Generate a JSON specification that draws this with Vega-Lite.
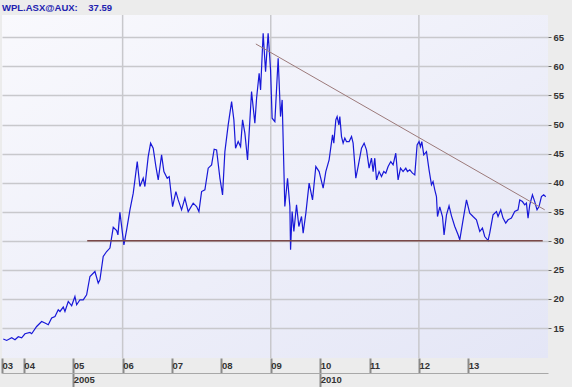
{
  "$schema": "https://vega.github.io/schema/vega-lite/v6.json",
  "width": 546,
  "height": 343,
  "autosize": "none",
  "padding": {"left": 2, "top": 15, "right": 24, "bottom": 29},
  "background": "#ececec",
  "view": {
    "stroke": null,
    "fill": {"gradient": "linear", "x1": 0, "y1": 0, "x2": 1, "y2": 1,
      "stops": [{"offset": 0, "color": "#f9f9fd"}, {"offset": 1, "color": "#e4e6f6"}]}
  },
  "title": {
    "text": "WPL.ASX@AUX:\u00a0\u00a0\u00a0\u00a037.59",
    "anchor": "start",
    "frame": "group",
    "offset": 2,
    "font": "Liberation Sans",
    "fontSize": 9.5,
    "fontWeight": "bold",
    "color": "#2222b0"
  },
  "datasets": {
    "price": [
      {"t":2003.583,"v":13.11},{"t":2003.652,"v":12.87},{"t":2003.753,"v":13.33},{"t":2003.820,"v":12.99},{"t":2003.887,"v":13.51},{"t":2003.955,"v":13.33},
      {"t":2004.022,"v":14.02},{"t":2004.123,"v":14.24},{"t":2004.158,"v":14.02},{"t":2004.259,"v":15.27},{"t":2004.360,"v":16.13},{"t":2004.427,"v":15.86},
      {"t":2004.494,"v":15.57},{"t":2004.563,"v":16.72},{"t":2004.630,"v":16.99},{"t":2004.696,"v":18.14},{"t":2004.731,"v":17.85},{"t":2004.798,"v":18.61},
      {"t":2004.832,"v":17.85},{"t":2004.899,"v":19.57},{"t":2004.968,"v":18.83},{"t":2005.034,"v":20.43},{"t":2005.069,"v":19.00},{"t":2005.136,"v":19.86},
      {"t":2005.202,"v":19.86},{"t":2005.271,"v":20.72},{"t":2005.338,"v":23.87},{"t":2005.439,"v":24.73},{"t":2005.506,"v":22.73},{"t":2005.540,"v":23.30},
      {"t":2005.607,"v":27.30},{"t":2005.676,"v":28.16},{"t":2005.743,"v":28.75},{"t":2005.810,"v":32.32},{"t":2005.879,"v":31.75},{"t":2005.905,"v":31.03},
      {"t":2005.945,"v":34.90},{"t":2006.026,"v":29.31},{"t":2006.081,"v":31.89},{"t":2006.148,"v":35.33},{"t":2006.215,"v":38.20},{"t":2006.296,"v":43.63},
      {"t":2006.350,"v":39.33},{"t":2006.417,"v":40.77},{"t":2006.451,"v":39.33},{"t":2006.518,"v":44.48},{"t":2006.567,"v":46.79},{"t":2006.619,"v":45.93},
      {"t":2006.674,"v":42.77},{"t":2006.721,"v":40.48},{"t":2006.789,"v":44.78},{"t":2006.836,"v":41.91},{"t":2006.903,"v":40.77},{"t":2006.943,"v":41.05},
      {"t":2007.012,"v":35.89},{"t":2007.079,"v":38.47},{"t":2007.126,"v":37.04},{"t":2007.194,"v":35.33},{"t":2007.261,"v":37.34},{"t":2007.328,"v":35.03},
      {"t":2007.429,"v":36.48},{"t":2007.498,"v":35.89},{"t":2007.545,"v":35.03},{"t":2007.599,"v":38.47},{"t":2007.666,"v":38.76},{"t":2007.733,"v":42.49},
      {"t":2007.802,"v":43.06},{"t":2007.854,"v":45.76},{"t":2007.903,"v":45.64},{"t":2007.970,"v":40.77},{"t":2008.024,"v":37.90},{"t":2008.071,"v":45.34},
      {"t":2008.138,"v":49.93},{"t":2008.207,"v":53.93},{"t":2008.253,"v":50.79},{"t":2008.287,"v":45.93},{"t":2008.340,"v":47.06},{"t":2008.389,"v":46.20},
      {"t":2008.429,"v":50.79},{"t":2008.476,"v":48.51},{"t":2008.530,"v":43.92},{"t":2008.611,"v":55.65},{"t":2008.678,"v":50.22},{"t":2008.713,"v":54.52},
      {"t":2008.765,"v":58.81},{"t":2008.794,"v":55.95},{"t":2008.846,"v":65.69},{"t":2008.895,"v":59.09},{"t":2008.947,"v":65.69},{"t":2008.996,"v":59.38},
      {"t":2009.028,"v":51.08},{"t":2009.083,"v":50.50},{"t":2009.150,"v":61.39},{"t":2009.198,"v":51.36},{"t":2009.231,"v":54.23},{"t":2009.285,"v":35.89},
      {"t":2009.340,"v":40.77},{"t":2009.387,"v":35.89},{"t":2009.401,"v":28.45},{"t":2009.433,"v":35.03},{"t":2009.468,"v":31.60},{"t":2009.522,"v":36.19},
      {"t":2009.569,"v":32.46},{"t":2009.623,"v":34.18},{"t":2009.656,"v":31.32},{"t":2009.711,"v":34.76},{"t":2009.777,"v":39.91},{"t":2009.846,"v":37.04},
      {"t":2009.913,"v":42.77},{"t":2009.980,"v":41.91},{"t":2010.061,"v":39.06},{"t":2010.115,"v":41.91},{"t":2010.182,"v":43.92},{"t":2010.251,"v":48.21},
      {"t":2010.277,"v":46.79},{"t":2010.318,"v":50.79},{"t":2010.344,"v":51.36},{"t":2010.379,"v":49.93},{"t":2010.399,"v":51.36},{"t":2010.433,"v":47.92},
      {"t":2010.466,"v":46.79},{"t":2010.500,"v":47.65},{"t":2010.534,"v":47.06},{"t":2010.587,"v":47.06},{"t":2010.636,"v":47.92},{"t":2010.668,"v":46.79},
      {"t":2010.723,"v":40.77},{"t":2010.769,"v":42.77},{"t":2010.838,"v":45.93},{"t":2010.891,"v":46.79},{"t":2010.939,"v":45.64},{"t":2010.992,"v":42.49},
      {"t":2011.040,"v":44.21},{"t":2011.073,"v":41.91},{"t":2011.107,"v":44.21},{"t":2011.142,"v":40.48},{"t":2011.194,"v":41.91},{"t":2011.243,"v":41.05},
      {"t":2011.289,"v":41.91},{"t":2011.330,"v":41.63},{"t":2011.377,"v":42.77},{"t":2011.431,"v":43.63},{"t":2011.478,"v":43.06},{"t":2011.532,"v":45.07},
      {"t":2011.579,"v":40.48},{"t":2011.628,"v":42.49},{"t":2011.680,"v":41.91},{"t":2011.735,"v":42.49},{"t":2011.769,"v":41.91},{"t":2011.816,"v":42.20},
      {"t":2011.870,"v":41.63},{"t":2011.917,"v":41.34},{"t":2011.964,"v":46.49},{"t":2012.004,"v":47.06},{"t":2012.032,"v":46.20},{"t":2012.059,"v":47.06},
      {"t":2012.099,"v":44.78},{"t":2012.154,"v":45.34},{"t":2012.206,"v":42.20},{"t":2012.255,"v":39.62},{"t":2012.287,"v":40.19},{"t":2012.322,"v":38.76},
      {"t":2012.356,"v":37.61},{"t":2012.377,"v":34.18},{"t":2012.423,"v":35.84},{"t":2012.478,"v":34.18},{"t":2012.510,"v":31.03},{"t":2012.559,"v":34.47},
      {"t":2012.611,"v":36.01},{"t":2012.660,"v":34.30},{"t":2012.727,"v":32.46},{"t":2012.794,"v":31.03},{"t":2012.828,"v":30.17},{"t":2012.895,"v":33.61},
      {"t":2012.964,"v":37.04},{"t":2013.030,"v":34.76},{"t":2013.097,"v":34.18},{"t":2013.166,"v":33.61},{"t":2013.233,"v":31.60},{"t":2013.287,"v":32.18},
      {"t":2013.334,"v":30.74},{"t":2013.401,"v":30.05},{"t":2013.435,"v":31.32},{"t":2013.502,"v":34.47},{"t":2013.571,"v":35.03},{"t":2013.603,"v":34.18},
      {"t":2013.658,"v":35.33},{"t":2013.704,"v":33.90},{"t":2013.759,"v":33.04},{"t":2013.806,"v":33.61},{"t":2013.874,"v":33.90},{"t":2013.941,"v":35.03},
      {"t":2014.008,"v":35.33},{"t":2014.043,"v":37.04},{"t":2014.097,"v":36.75},{"t":2014.144,"v":36.19},{"t":2014.178,"v":36.48},{"t":2014.211,"v":33.90},
      {"t":2014.245,"v":36.19},{"t":2014.300,"v":37.90},{"t":2014.346,"v":36.75},{"t":2014.393,"v":35.33},{"t":2014.433,"v":35.89},{"t":2014.482,"v":37.61},
      {"t":2014.528,"v":37.90},{"t":2014.569,"v":37.59}
    ],
    "grid": [{"g": 2006}, {"g": 2009}, {"g": 2012}],
    "support": [{"t": 2005.283, "t2": 2014.508, "v": 30}],
    "resistance": [{"t": 2008.698, "v": 63.85}, {"t": 2014.549, "v": 35.33}]
  },
  "layer": [
    {
      "data": {"name": "grid"},
      "mark": {"type": "rule", "color": "#c8c8cc", "strokeWidth": 1.5},
      "encoding": {
        "x": {"field": "g", "type": "quantitative", "scale": {"domain": [2003.557, 2014.615], "nice": false, "zero": false}, "axis": null}
      }
    },
    {
      "data": {"name": "price"},
      "mark": {"type": "line", "color": "#1818d8", "strokeWidth": 1.2},
      "encoding": {
        "x": {
          "field": "t", "type": "quantitative",
          "scale": {"domain": [2003.557, 2014.615], "nice": false, "zero": false},
          "axis": {
            "orient": "bottom", "title": null, "grid": false, "domain": false,
            "values": [2003.557, 2004, 2005, 2006, 2007, 2008, 2009, 2010, 2011, 2012, 2013],
            "labelExpr": "slice(toString(floor(datum.value)), 2)",
            "tickSize": 15, "tickColor": "#8a8a8a", "tickWidth": 2,
            "labelAlign": "left", "labelBaseline": "top", "labelPadding": -13, "labelDx": 4,
            "labelFlush": false, "labelOverlap": false,
            "labelFont": "Liberation Sans", "labelFontSize": 9.5, "labelFontWeight": "bold", "labelColor": "#333333"
          }
        },
        "y": {
          "field": "v", "type": "quantitative",
          "scale": {"domain": [9.85, 68.83], "nice": false, "zero": false},
          "axis": {
            "orient": "right", "title": null, "grid": true, "gridColor": "#c8c8cc", "gridWidth": 1.5, "domain": false,
            "values": [15, 20, 25, 30, 35, 40, 45, 50, 55, 60, 65],
            "tickSize": 3, "tickColor": "#666666", "labelPadding": 2,
            "labelFont": "Liberation Sans", "labelFontSize": 9.5, "labelFontWeight": "bold", "labelColor": "#333333"
          }
        }
      }
    },
    {
      "data": {"name": "support"},
      "mark": {"type": "rule", "color": "#7a4848", "strokeWidth": 1.5},
      "encoding": {
        "x": {
          "field": "t", "type": "quantitative",
          "axis": {
            "orient": "bottom", "title": null, "grid": false, "offset": 15,
            "domain": true, "domainColor": "#a8a8a8", "domainWidth": 1,
            "values": [2005, 2010], "format": "d",
            "tickSize": 14, "tickColor": "#8a8a8a", "tickWidth": 2,
            "labelAlign": "left", "labelBaseline": "top", "labelPadding": -13, "labelDx": 4,
            "labelFlush": false,
            "labelFont": "Liberation Sans", "labelFontSize": 9.5, "labelFontWeight": "bold", "labelColor": "#333333"
          }
        },
        "x2": {"field": "t2"},
        "y": {"field": "v", "type": "quantitative", "axis": null}
      }
    },
    {
      "data": {"name": "resistance"},
      "mark": {"type": "line", "color": "#9c7a7a", "strokeWidth": 1},
      "encoding": {
        "x": {"field": "t", "type": "quantitative", "axis": null},
        "y": {"field": "v", "type": "quantitative", "axis": null}
      }
    }
  ],
  "resolve": {"scale": {"x": "shared", "y": "shared"}, "axis": {"x": "independent", "y": "independent"}}
}
